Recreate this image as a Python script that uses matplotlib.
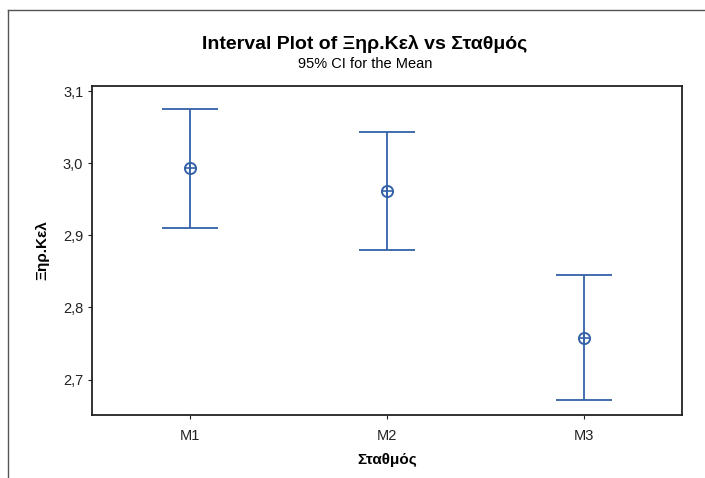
import matplotlib
matplotlib.use("Agg")
import matplotlib.pyplot as plt
from matplotlib.lines import Line2D

plt.rcParams['font.family'] = ['Liberation Sans', 'DejaVu Sans']

# data
stations = ['M1', 'M2', 'M3']
means = [2.994, 2.961, 2.758]
ci_low = [2.910, 2.880, 2.671]
ci_high = [3.075, 3.043, 2.845]
yticks = [2.7, 2.8, 2.9, 3.0, 3.1]
ytick_labels = ['2,7', '2,8', '2,9', '3,0', '3,1']

blue = '#3461a8'

fig = plt.figure(figsize=(7.05, 4.78), dpi=100)
ax = fig.add_axes([0.130, 0.132, 0.838, 0.688])

x = list(range(1, len(stations) + 1))
err_lo = [m - lo for m, lo in zip(means, ci_low)]
err_hi = [hi - m for m, hi in zip(means, ci_high)]
ax.errorbar(x, means, yerr=[err_lo, err_hi], fmt='none', ecolor=blue,
            elinewidth=1.3, capsize=20, capthick=1.3)
# minitab style mean symbol: circle with a cross inside
ax.plot(x, means, 'o', ms=8, mfc='none', mec=blue, mew=1.4)
ax.plot(x, means, '+', ms=8, color=blue, mew=1.2)

ax.set_xlim(0.5, 3.5)
ax.set_ylim(2.651, 3.107)
ax.set_xticks(x)
ax.set_xticklabels(stations, fontsize=10.5)
ax.set_yticks(yticks)
ax.set_yticklabels(ytick_labels, fontsize=10.5)
ax.tick_params(direction='out', length=3, width=0.8, colors='#222222')
ax.tick_params(axis='x', pad=7)
ax.tick_params(axis='y', pad=3)
for s in ax.spines.values():
    s.set_linewidth(1.3)
    s.set_color('#222222')

ax.set_xlabel('Σταθμός', fontsize=11, fontweight='bold', labelpad=7)
ax.set_ylabel('Ξηρ.Κελ', fontsize=11, fontweight='bold', labelpad=10)

fig.text(365 / 705, 1 - 44 / 478, 'Interval Plot of Ξηρ.Κελ vs Σταθμός',
         ha='center', va='center', fontsize=14, fontweight='bold')
fig.text(365 / 705, 1 - 64 / 478, '95% CI for the Mean',
         ha='center', va='center', fontsize=10.5)

# frame of the scanned page
fig.add_artist(Line2D([8 / 705, 8 / 705], [0, 1 - 10 / 478],
                      transform=fig.transFigure, color='#555555', lw=1))
fig.add_artist(Line2D([8 / 705, 1], [1 - 10 / 478, 1 - 10 / 478],
                      transform=fig.transFigure, color='#555555', lw=1))

fig.savefig('out.png', dpi=100)
